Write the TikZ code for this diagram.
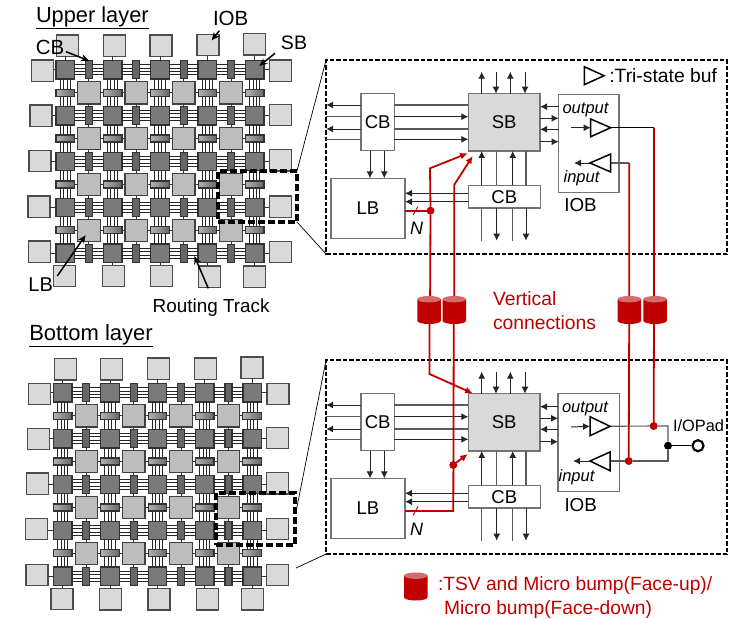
\documentclass[tikz,border=0pt]{standalone}
\usepackage{fontspec}
\setmainfont{Liberation Sans}
\usetikzlibrary{arrows.meta,shapes.geometric,calc}
\definecolor{tsvred}{HTML}{C00000}
\definecolor{tsvtop}{HTML}{D46A6A}
\newcommand{\fs}[1]{\fontsize{#1}{#1}\selectfont}
\tikzset{
  lbl/.style={inner sep=0pt,outer sep=0pt,text=black},
  redlbl/.style={inner sep=0pt,outer sep=0pt,text=tsvred,anchor=west},
  gsb/.style={draw=black!80,line width=1.3pt,fill=black!52,minimum width=18.5pt,minimum height=18.5pt,inner sep=0pt,outer sep=0pt},
  glb/.style={draw=black!75,line width=1.2pt,fill=black!26,minimum width=22.5pt,minimum height=22.5pt,inner sep=0pt,outer sep=0pt},
  gio/.style={draw=black!70,line width=1.2pt,fill=black!15,minimum width=22pt,minimum height=21.5pt,inner sep=0pt,outer sep=0pt},
  gcbv/.style={draw=black!80,line width=1.2pt,left color=black!60,middle color=black!25,right color=black!60,minimum width=7pt,minimum height=18pt,inner sep=0pt,outer sep=0pt},
  gcbh/.style={draw=black!80,line width=1.2pt,left color=black!30,right color=black!60,minimum width=18.5pt,minimum height=7pt,inner sep=0pt,outer sep=0pt},
  trk/.style={draw=black!85,line width=1pt},
  stub/.style={draw=black!80,line width=1pt},
  focus/.style={draw=black,line width=3.2pt,dash pattern=on 7pt off 3pt,inner sep=0pt,outer sep=0pt},
  panelbox/.style={draw=black,line width=1.5pt,dash pattern=on 4.5pt off 2pt,inner sep=0pt,outer sep=0pt,minimum width=401pt,minimum height=194pt},
  leader/.style={draw=black,line width=.7pt},
  block/.style={draw=black!55,line width=1.2pt,inner sep=0pt,outer sep=0pt,fill=white,font=\fs{18.5}},
  arr/.style={draw=black!85,line width=1pt,-{Latex[length=7pt,width=7pt]}},
  plain/.style={draw=black!65,line width=1.1pt},
  redl/.style={draw=tsvred,line width=1.8pt},
  reda/.style={draw=tsvred,line width=1.8pt,-{Latex[length=7.5pt,width=7pt]}},
  reddot/.style={circle,fill=tsvred,inner sep=0pt,minimum size=8pt,outer sep=0pt},
  blackdot/.style={circle,fill=black,inner sep=0pt,minimum size=8pt,outer sep=0pt},
  tsvhit/.style={inner sep=0pt,outer sep=0pt,minimum width=23.5pt,minimum height=28pt},
  callout/.style={draw=black,line width=1.5pt,-{Stealth[length=8pt,width=7pt]}},
  bufline/.style={draw=black,line width=1.5pt,fill=white,line join=miter},
}
% a TSV barrel: #1 name, #2 x, #3 y of the centre
\newcommand{\tsvcyl}[3]{%
  \node[tsvhit] (#1) at (#2,#3) {};
  \fill[tsvred] ($(#1.north west)+(0,3.2)$) -- ($(#1.south west)+(0,-3.2)$)
     arc[start angle=180,end angle=360,x radius=11.75pt,y radius=3.2pt]
     -- ($(#1.north east)+(0,3.2)$) -- cycle;
  \fill[tsvtop] ($(#1.north)+(0,3.2)$) ellipse[x radius=11.75pt,y radius=3.2pt];
}
% #1 prefix, #2 x0, #3 y0, #4 top IOBs, #5 left IOBs, #6 right IOBs, #7 bottom IOBs (lists of i/x/y)
\newcommand{\gridlayer}[7]{%
  \foreach \i in {1,...,5}{\foreach \j in {1,...,5}{
    \node[gsb] (#1s\i\j) at ({#2+(\i-1)*47.35},{#3+(\j-1)*45.9}) {};
  }}
  \foreach \i/\n in {1/2,2/3,3/4,4/5}{\foreach \j in {1,...,5}{
    \foreach \o in {-5.1,-1.7,1.7,5.1}{
      \draw[trk] ([yshift=\o pt]#1s\i\j.east) -- ([yshift=\o pt]#1s\n\j.west);
    }
    \node[gcbv] (#1v\i\j) at ($(#1s\i\j)!.5!(#1s\n\j)$) {};
  }}
  \foreach \i in {1,...,5}{\foreach \j/\n in {1/2,2/3,3/4,4/5}{
    \foreach \o in {-5.1,-1.7,1.7,5.1}{
      \draw[trk] ([xshift=\o pt]#1s\i\j.south) -- ([xshift=\o pt]#1s\i\n.north);
    }
    \node[gcbh] (#1h\i\j) at ($(#1s\i\j)!.5!(#1s\i\n)$) {};
  }}
  \foreach \i/\n in {1/2,2/3,3/4,4/5}{\foreach \j/\m in {1/2,2/3,3/4,4/5}{
    \node[glb] (#1l\i\j) at ($(#1s\i\j)!.5!(#1s\n\m)$) {};
    \draw[stub] (#1l\i\j.west) -- (#1h\i\j.east);
    \draw[stub] (#1l\i\j.east) -- (#1h\n\j.west);
    \draw[stub] (#1l\i\j.north) -- (#1v\i\j.south);
    \draw[stub] (#1l\i\j.south) -- (#1v\i\m.north);
  }}
  \foreach \k/\x/\y in {#4}{
    \node[gio] (#1t\k) at (\x,\y) {};
    \draw[stub] (#1s\k1.north) -- (#1s\k1.north |- #1t\k.south);
  }
  \foreach \k/\x/\y in {#5}{
    \node[gio] (#1w\k) at (\x,\y) {};
    \draw[stub] (#1s1\k.west) -- (#1s1\k.west -| #1w\k.east);
  }
  \foreach \k/\x/\y in {#6}{
    \node[gio] (#1e\k) at (\x,\y) {};
    \draw[stub] (#1s5\k.east) -- (#1s5\k.east -| #1e\k.west);
  }
  \foreach \k/\x/\y in {#7}{
    \node[gio] (#1b\k) at (\x,\y) {};
    \draw[stub] (#1s\k5.south) -- (#1s\k5.south |- #1b\k.north);
  }
}
% common part of a detail panel, drawn at the coordinates of the upper one
\newcommand{\corepanel}[1]{%
  \node[panelbox] (#1panel) at (526.6,157) {};
  \node[block,fill=black!15,minimum width=71.7pt,minimum height=57.3pt] (#1sb) at (504.2,122.3) {SB};
  \node[block,minimum width=33.3pt,minimum height=57pt] (#1cbl) at (377.7,122.2) {CB};
  \node[block,minimum width=74pt,minimum height=60.4pt] (#1lb) at (368,208.5) {LB};
  \node[block,minimum width=72pt,minimum height=22.7pt] (#1cbb) at (504.3,196.7) {CB};
  % left CB, towards the left
  \draw[arr] (#1cbl.west |- 0,105) -- (#1panel.west |- 0,105);
  \draw[plain] (#1cbl.west |- 0,116.7) -- (#1panel.west |- 0,116.7);
  \draw[arr] (#1cbl.west |- 0,129) -- (#1panel.west |- 0,129);
  \draw[plain] (#1cbl.west |- 0,139.3) -- (#1panel.west |- 0,139.3);
  % left CB to SB
  \draw[plain] (#1cbl.east |- 0,105) -- (#1sb.west |- 0,105);
  \draw[arr] (#1cbl.east |- 0,116.7) -- (#1sb.west |- 0,116.7);
  \draw[plain] (#1cbl.east |- 0,129) -- (#1sb.west |- 0,129);
  \draw[arr] (#1cbl.east |- 0,139.3) -- (#1sb.west |- 0,139.3);
  % left CB to LB
  \draw[arr] (370,150.7) -- (370,178.3);
  \draw[arr] (384.3,150.7) -- (384.3,178.3);
  % SB top
  \draw[arr] (#1sb.north -| 481.7,0) -- (481.7,71.7);
  \draw[arr] (496,71.7) -- (#1sb.north -| 496,0);
  \draw[arr] (#1sb.north -| 510.3,0) -- (510.3,71.7);
  \draw[arr] (525,71.7) -- (#1sb.north -| 525,0);
  % CB bottom to SB
  \draw[arr] (#1cbb.north -| 481.7,0) -- (#1sb.south -| 481.7,0);
  \draw[plain] (#1cbb.north -| 496.7,0) -- (#1sb.south -| 496.7,0);
  \draw[arr] (#1cbb.north -| 512.7,0) -- (#1sb.south -| 512.7,0);
  \draw[plain] (#1cbb.north -| 526,0) -- (#1sb.south -| 526,0);
  % CB bottom, downwards
  \draw[plain] (#1cbb.south -| 481.7,0) -- (481.7,240.7);
  \draw[arr] (#1cbb.south -| 496.7,0) -- (496.7,240.7);
  \draw[plain] (#1cbb.south -| 512.7,0) -- (512.7,240.7);
  \draw[arr] (#1cbb.south -| 526,0) -- (526,240.7);
  % CB bottom to LB
  \draw[arr] (#1cbb.west |- 0,193.3) -- (#1lb.east |- 0,193.3);
  \draw[arr] (#1cbb.west |- 0,201.7) -- (#1lb.east |- 0,201.7);
}
% #1 prefix
\newcommand{\sbio}[1]{%
  \draw[arr] (#1io.west |- 0,106.7) -- (#1sb.east |- 0,106.7);
  \draw[arr] (#1sb.east |- 0,118.3) -- (#1io.west |- 0,118.3);
  \draw[arr] (#1io.west |- 0,129.3) -- (#1sb.east |- 0,129.3);
  \draw[arr] (#1sb.east |- 0,141.7) -- (#1io.west |- 0,141.7);
}
\begin{document}
\begin{tikzpicture}[x=1pt,y=-1pt]
\useasboundingbox (0,0) rectangle (735,618);
% ===== left grids =====
\gridlayer{U}{65.3}{69.7}
  {1/67.7/45.7,2/114.3/45.7,3/161/45.7,4/208/45,5/254.7/44.3}
  {1/42.3/70.7,2/41/115.7,3/40/161,4/39/206.7,5/39.3/251.7}
  {1/280.3/70.7,2/280.3/115,3/280.3/160.3,4/280.3/206.7,5/280.3/252}
  {1/64.7/276,2/113.3/276,3/161.3/276,4/209.7/276.7,5/254.7/276.7}
\gridlayer{D}{62.7}{392.7}
  {1/65.3/369.3,2/111.7/369.3,3/158.7/368.7,4/205.3/368.7,5/252/367.7}
  {1/39.7/394,2/38.7/439,3/37.3/483.7,4/36.3/529,5/37/575}
  {1/278/394,2/277.7/438,3/277.7/483.3,4/277.7/529,5/277.7/575}
  {1/62/599,2/110.3/599.3,3/159/599.3,4/207.3/599.3,5/252.7/599.3}
\node[focus,minimum width=79pt,minimum height=51pt] (focusU) at (257.5,196.5) {};
\node[focus,minimum width=79pt,minimum height=52pt] (focusD) at (255.5,519) {};
% labels of the upper grid
\node[lbl,anchor=west,font=\fs{21.8}] (tUpper) at (36,18) {\underline{Upper layer}};
\node[lbl,font=\fs{20.5}] (tIOB) at (230.7,18) {IOB};
\node[lbl,font=\fs{20.5}] (tCB) at (50,47.5) {CB};
\node[lbl,font=\fs{19.5}] (tSB) at (294,42.5) {SB};
\node[lbl,font=\fs{20}] (tLB) at (40.7,285) {LB};
\node[lbl,anchor=west,font=\fs{18.9}] (tRT) at (152.7,308) {Routing Track};
\node[lbl,anchor=west,font=\fs{22}] (tBottom) at (29.3,336) {\underline{Bottom layer}};
\coordinate (cIOB) at (219.3,30.7); \coordinate (cCB) at (66,51.7);
\coordinate (cSB) at (275,53.3); \coordinate (cLB) at (57.3,276); \coordinate (cRT) at (208.3,288.3);
\coordinate (hRT) at (194.3,256);
\draw[callout,shorten >=6pt] (cIOB) -- (Ut4.center);
\draw[callout] (cCB) -- (Uv11.north);
\draw[callout,shorten >=6pt] (cSB) -- (Us51.center);
\draw[callout,shorten >=6pt] (cLB) -- (Ul14.center);
\draw[callout] (cRT) -- (hRT);
% ===== upper panel =====
\corepanel{u}
\node[block,minimum width=60.3pt,minimum height=98.4pt] (uio) at (588.8,143.5) {};
\sbio{u}
\node[lbl,font=\itshape\fs{16.5}] (uout) at (585.5,110) {output};
\node[lbl,font=\itshape\fs{16.5}] (uin) at (581.5,178) {input};
\node[lbl,font=\fs{18.8}] (uiot) at (580.5,205) {IOB};
\node[lbl,font=\itshape\fs{18}] (uN) at (416.7,228.3) {N};
\coordinate (ubo) at (590.7,127.7); \coordinate (ubot) at (610.7,127.7);
\coordinate (ubi) at (610.7,163); \coordinate (ubit) at (590,163);
\draw[arr] (571,127.7) -- (ubo);
\draw[arr] (ubit) -- (574,163);
\draw[draw=black,line width=1pt] (ubot) -- (654,127.7);
\draw[plain] (ubi) -- (629.3,163);
\draw[bufline] (590.7,119) -- (590.7,136.7) -- (ubot) -- cycle;
\draw[bufline] (610.7,154) -- (610.7,172) -- (ubit) -- cycle;
% legend triangle
\coordinate (lgt) at (604,75.7);
\draw[bufline] (584.3,66.7) -- (584.3,84.7) -- (lgt) -- cycle;
\node[lbl,anchor=west,font=\fs{19.3}] (ttri) at (609.3,76) {:Tri-state buf};
% ===== lower panel =====
\begin{scope}[shift={(0,300)}]
\corepanel{d}
\node[block,minimum width=61.3pt,minimum height=98pt] (dio) at (588.7,142.7) {};
\sbio{d}
\node[lbl,font=\itshape\fs{16.5}] (dout) at (585,109) {output};
\node[lbl,font=\itshape\fs{16.5}] (din) at (576.5,177) {input};
\node[lbl,font=\fs{18.8}] (diot) at (580.7,204.7) {IOB};
\node[lbl,font=\itshape\fs{18}] (dN) at (416.7,229) {N};
\end{scope}
\coordinate (dbo) at (590,426.3); \coordinate (dbot) at (610,426.3);
\coordinate (dbi) at (610,461); \coordinate (dbit) at (590,461);
\draw[arr] (571,427) -- (dbo);
\draw[arr] (dbit) -- (573,461);
\node[reddot] (dd1) at (653.7,426) {};
\node[reddot] (dd2) at (628.7,461) {};
\node[blackdot] (dj) at (668,445.7) {};
\node[circle,draw=black,line width=2.2pt,fill=white,minimum size=11pt,inner sep=0pt] (pad) at (698,445.7) {};
\draw[plain] (dbot) -- (dd1) -- (dd1 -| dj) -- (dj);
\draw[plain] (dbi) -- (dd2) -- (dd2 -| dj) -- (dj);
\draw[draw=black,line width=1pt] (dj) -- (pad);
\draw[bufline] (590,416.7) -- (590,435.7) -- (dbot) -- cycle;
\draw[bufline] (610,452) -- (610,470.7) -- (dbit) -- cycle;
\node[lbl,anchor=west,font=\fs{16.4}] (tpad) at (673,426) {I/OPad};
% leaders
\coordinate (lu) at (296,512); \coordinate (ld) at (296,568);
\draw[leader] (focusU.north east) -- (upanel.north west);
\draw[leader] (focusU.south east) -- (upanel.south west);
\draw[leader] (lu) -- (dpanel.north west);
\draw[leader] (ld) -- (dpanel.south west);
% ===== vertical connections =====
\node[reddot] (ud) at (430.5,210.7) {};
\node[reddot] (dd) at (453.3,465) {};
\coordinate (a1) at (430,168.3); \coordinate (a1h) at (467.7,153.3);
\coordinate (a2) at (454.3,184.7); \coordinate (a2h) at (472.7,156);
\coordinate (b1) at (429.5,374); \coordinate (b1h) at (472.7,393.3);
\coordinate (b2) at (453.3,511); \coordinate (b3) at (dlb.east |- b2);
\coordinate (b4h) at (467.7,454);
\draw[redl] (ulb.east |- ud) -- (ud);
\draw[redl] (ud) -- (a1 |- 0,320);
\draw[reda] (ud) -- (a1) -- (a1h);
\draw[reda] (454.3,300) -- (a2) -- (a2h);
\draw[reda] (429.5,300) -- (b1) -- (b1h);
\draw[redl] (453.8,300) -- (b2) -- (b3);
\draw[reda] (dd) -- (b4h);
\draw[redl] (629.3,163) -- (629.3,300) -- (dd2);
\draw[redl] (654,127.7) -- (654,300) -- (dd1);
\draw[draw=tsvred,line width=.9pt] (418,206.5) -- (413,215);
\draw[draw=tsvred,line width=.9pt] (418,506.5) -- (413,515.5);
\tsvcyl{t1}{429}{310}
\tsvcyl{t2}{454.3}{310}
\tsvcyl{t3}{629.3}{310}
\tsvcyl{t4}{655}{310}
\node[redlbl,font=\fs{19.3}] (tv1) at (493,299) {Vertical};
\node[redlbl,font=\fs{19.3}] (tv2) at (493,322.5) {connections};
% legend
\tsvcyl{tl}{415.8}{586.5}
\node[redlbl,font=\fs{19.2}] (tl1) at (438,585.7) {:TSV and Micro bump(Face-up)/};
\node[redlbl,font=\fs{19.2}] (tl2) at (444,610) {Micro bump(Face-down)};
\end{tikzpicture}
\end{document}
